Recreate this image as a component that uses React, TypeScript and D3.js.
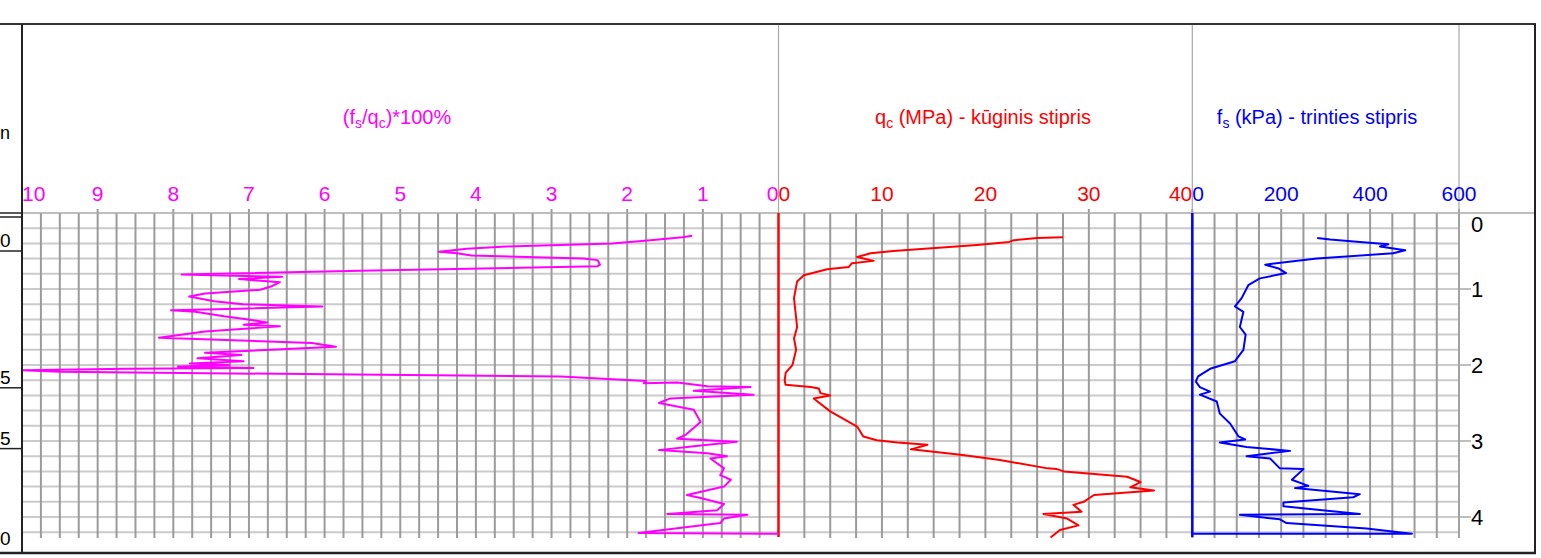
import * as d3 from "d3";
import {useEffect, useRef} from "react";

// friction ratio (fs/qc)*100 %, depth in m
const rfDepth = [0.30, 0.32, 0.36, 0.40, 0.44, 0.47, 0.51, 0.53, 0.56, 0.60, 0.62, 0.68, 0.70, 0.76, 0.81, 0.84, 0.87, 0.91, 0.96, 1.01,
    1.06, 1.10, 1.16, 1.20, 1.23, 1.26, 1.28, 1.30, 1.36, 1.40, 1.44, 1.47, 1.49, 1.52, 1.56, 1.64, 1.71, 1.76, 1.84, 1.87,
    1.91, 1.95, 1.98, 2.00, 2.02, 2.04, 2.05, 2.07, 2.09, 2.15, 2.21, 2.24, 2.23, 2.28, 2.29, 2.34, 2.39, 2.44, 2.50, 2.59,
    2.75, 2.92, 2.97, 3.01, 3.07, 3.12, 3.16, 3.20, 3.23, 3.36, 3.45, 3.51, 3.60, 3.71, 3.75, 3.83, 3.91, 3.96, 3.97, 4.02,
    4.08, 4.21, 4.22];
const rfValue = [1.14, 1.27, 1.69, 2.2, 3.6, 4.12, 4.49, 4.25, 4.06, 2.58, 2.39, 2.36, 2.39, 5.53, 7.89, 6.56, 7.13, 6.59, 6.69, 6.85,
    7.58, 7.79, 7.46, 7.08, 6.03, 7.13, 8.03, 7.71, 7.33, 7.01, 6.76, 7.07, 6.59, 7.01, 7.58, 8.19, 6.17, 5.85, 7.58, 7.10,
    7.68, 7.07, 7.78, 7.26, 7.94, 6.94, 8.61, 10, 9.5, 2.88, 1.75, 1.78, 1.34, 0.94, 0.37, 1.12, 0.33, 1.43, 1.58, 1.12,
    1.03, 1.23, 1.34, 0.55, 1.12, 1.58, 0.94, 0.68, 0.90, 0.72, 0.77, 0.63, 0.72, 1.21, 1.03, 0.72, 0.81, 1.47, 0.41, 0.72,
    0.77, 1.85, 0];

// cone resistance qc, MPa
const qcDepth = [0.32, 0.33, 0.36, 0.38, 0.42, 0.50, 0.53, 0.58, 0.63, 0.66, 0.71, 0.74, 0.82, 0.90, 1.12, 1.25, 1.50, 1.65, 1.80, 2.00,
    2.10, 2.20, 2.26, 2.29, 2.31, 2.37, 2.40, 2.44, 2.61, 2.81, 2.94, 2.99, 3.02, 3.05, 3.11, 3.18, 3.25, 3.36, 3.37, 3.40,
    3.47, 3.54, 3.61, 3.65, 3.71, 3.80, 3.84, 3.93, 3.96, 4.02, 4.11, 4.17, 4.27];
const qcValue = [27.5, 25.0, 22.7, 22.3, 19.2, 11.1, 8.9, 7.6, 9.2, 7.1, 6.8, 4.7, 2.45, 1.8, 1.5, 1.6, 1.8, 1.5, 1.7, 1.35,
    0.7, 0.6, 0.68, 3.1, 3.9, 4.06, 5.0, 3.4, 5.0, 7.6, 8.2, 9.5, 11.5, 14.4, 12.8, 17.6, 21.4, 26.0, 26.9, 27.6,
    33.7, 35.0, 34.0, 36.3, 30.5, 29.5, 28.5, 29.3, 25.6, 27.9, 29.0, 27.2, 26.3];

// sleeve friction fs, kPa
const fsDepth = [0.33, 0.35, 0.38, 0.41, 0.44, 0.49, 0.53, 0.60, 0.68, 0.73, 0.79, 0.86, 0.95, 1.12, 1.23, 1.30, 1.50, 1.60, 1.80, 1.95,
    2.05, 2.15, 2.22, 2.29, 2.35, 2.39, 2.48, 2.64, 2.77, 2.94, 2.98, 3.02, 3.08, 3.13, 3.20, 3.23, 3.36, 3.37, 3.51, 3.59,
    3.62, 3.70, 3.74, 3.81, 3.86, 3.96, 3.97, 4.03, 4.08, 4.15, 4.22, 4.22];
const fsValue = [281, 310, 377, 441, 422, 479, 452, 280, 164, 194, 211, 152, 126, 111, 96, 115, 107, 120, 115, 96,
    40, 13, 8, 17, 40, 17, 55, 62, 85, 104, 119, 62, 122, 220, 122, 175, 197, 250, 224, 261,
    231, 377, 362, 205, 205, 377, 107, 197, 212, 392, 494, 2];

const rfTicks = [10, 9, 8, 7, 6, 5, 4, 3, 2, 1, 0];
const qcTicks = [0, 10, 20, 30, 40];
const fsTicks = [0, 200, 400, 600];
const depthTicks = [0, 1, 2, 3, 4];

// cropped soil-column labels on the far left
const layerLabels = ["0", "5", "5", "0"];
const layerDepths = [0.5, 2.3, 3.1, 4.42];

const FONT = "'Liberation Sans', Arial, sans-serif";

const App = () => {
    const ref = useRef<SVGSVGElement>(null);

    useEffect(() => {
        const svg = d3.select(ref.current);
        svg.selectAll("*").remove();

        const top = 24, bottom = 553, left = 22, right = 1535;

        const y = d3.scaleLinear().domain([0, 4.2]).range([213, 532.2]);
        const xRf = d3.scaleLinear().domain([10, 0]).range([left, 778.5]);
        const xQc = d3.scaleLinear().domain([0, 40]).range([778.5, 1192.3]);
        const xFs = d3.scaleLinear().domain([0, 600]).range([1192.3, 1459]);
        const gridEnd = 538;

        // horizontal grid
        const hLines = d3.range(1, 22).map(i => i * 0.2);
        svg.append("g").selectAll("line").data(hLines).join("line")
            .attr("x1", left).attr("x2", 1459)
            .attr("y1", d => y(d)).attr("y2", d => y(d))
            .attr("stroke", "#cbcbcb").attr("stroke-width", 2);

        // vertical grid per panel
        const vgrid = (scale, step, majors, from, to) => {
            const vals = d3.range(from, to + step / 2, step);
            svg.append("g").selectAll("line").data(vals).join("line")
                .attr("x1", d => scale(d)).attr("x2", d => scale(d))
                .attr("y1", d => majors.some(m => Math.abs(m - d) < 1e-6) ? y(0) - 4 : y(0))
                .attr("y2", gridEnd)
                .attr("stroke", "#9b9b9b").attr("stroke-width", 2);
        };
        vgrid(xRf, 0.25, rfTicks, 0.25, 9.75);
        vgrid(xQc, 2.5, qcTicks, 2.5, 40);
        vgrid(xFs, 50, fsTicks, 50, 600);

        // top line of grid
        svg.append("line").attr("x1", left).attr("x2", right).attr("y1", y(0)).attr("y2", y(0))
            .attr("stroke", "#a8a8a8").attr("stroke-width", 1.5);

        // depth ticks + labels
        svg.append("g").selectAll("line").data(depthTicks.slice(1)).join("line")
            .attr("x1", 1459).attr("x2", 1471)
            .attr("y1", d => y(d)).attr("y2", d => y(d))
            .attr("stroke", "#a8a8a8").attr("stroke-width", 1.5);
        svg.append("g").selectAll("text").data(depthTicks).join("text")
            .attr("x", 1471)
            .attr("y", d => d === 0 ? y(0) + 19 : y(d) + 8)
            .attr("font-family", FONT).attr("font-size", 22).attr("fill", "#000")
            .text(d => d);

        // header separators
        [778.5, 1192.3, 1459].forEach(xx => {
            svg.append("line").attr("x1", xx).attr("x2", xx).attr("y1", top).attr("y2", xx === 1459 ? gridEnd : y(0))
                .attr("stroke", "#a8a8a8").attr("stroke-width", 1.2);
        });

        // zero axes
        svg.append("line").attr("x1", xQc(0)).attr("x2", xQc(0)).attr("y1", y(0)).attr("y2", 537)
            .attr("stroke", "#ff0000").attr("stroke-width", 2.5);
        svg.append("line").attr("x1", xFs(0)).attr("x2", xFs(0)).attr("y1", y(0)).attr("y2", 537)
            .attr("stroke", "#0000ff").attr("stroke-width", 2.5);

        // tick labels
        const tickLabels = (ticks, scale, color, anchorFn) => {
            svg.append("g").selectAll("text").data(ticks).join("text")
                .attr("x", d => scale(d))
                .attr("y", 201)
                .attr("text-anchor", (d, i) => anchorFn(i, ticks.length))
                .attr("font-family", FONT).attr("font-size", 21).attr("fill", color)
                .text(d => d);
        };
        tickLabels(rfTicks, xRf, "#ff00ff", (i, n) => i === 0 ? "start" : i === n - 1 ? "end" : "middle");
        tickLabels(qcTicks, xQc, "#ff0000", (i, n) => i === 0 ? "start" : i === n - 1 ? "end" : "middle");
        tickLabels(fsTicks, xFs, "#0000ff", (i) => i === 0 ? "start" : "middle");

        // titles with subscripts
        const title = (cx, color, parts) => {
            const t = svg.append("text").attr("x", cx).attr("y", 124).attr("text-anchor", "middle")
                .attr("font-family", FONT).attr("font-size", 20).attr("fill", color);
            let shifted = false;
            parts.forEach(([s, sub]) => {
                const dy = sub ? 4 : (shifted ? -4 : 0);
                shifted = sub;
                t.append("tspan").attr("font-size", sub ? 14 : 20)
                    .attr("dy", dy)
                    .text(s);
            });
        };
        title(397, "#ff00ff", [["(f", false], ["s", true], ["/q", false], ["c", true], [")*100%", false]]);
        title(983, "#ff0000", [["q", false], ["c", true], [" (MPa) - kūginis stipris", false]]);
        title(1317, "#0000ff", [["f", false], ["s", true], [" (kPa) - trinties stipris", false]]);

        // traces
        const trace = (depths, values, scale, color) => {
            const pts = depths.map((d, i) => [scale(values[i]), y(d)]);
            svg.append("path")
                .attr("d", d3.line()(pts))
                .attr("fill", "none").attr("stroke", color).attr("stroke-width", 2)
                .attr("stroke-linejoin", "round");
        };
        trace(rfDepth, rfValue, xRf, "#ff00ff");
        trace(qcDepth, qcValue, xQc, "#ff0000");
        trace(fsDepth, fsValue, xFs, "#0000ff");

        // left soil column remnants
        svg.append("line").attr("x1", 0).attr("x2", left).attr("y1", y(0)).attr("y2", y(0))
            .attr("stroke", "#222").attr("stroke-width", 1.5);
        svg.append("line").attr("x1", 0).attr("x2", left).attr("y1", y(0) + 4).attr("y2", y(0) + 4)
            .attr("stroke", "#222").attr("stroke-width", 1.5);
        layerDepths.forEach((d, i) => {
            if (i < layerDepths.length - 1) {
                svg.append("line").attr("x1", 0).attr("x2", left).attr("y1", y(d)).attr("y2", y(d))
                    .attr("stroke", "#222").attr("stroke-width", 1.5);
            }
            svg.append("text").attr("x", 0).attr("y", y(d) - 4)
                .attr("font-family", FONT).attr("font-size", 19).attr("fill", "#000")
                .text(layerLabels[i]);
        });
        svg.append("text").attr("x", 0).attr("y", 139)
            .attr("font-family", FONT).attr("font-size", 18).attr("fill", "#000").text("n");

        // frame
        svg.append("line").attr("x1", 0).attr("x2", right + 1).attr("y1", top).attr("y2", top)
            .attr("stroke", "#333").attr("stroke-width", 2);
        svg.append("line").attr("x1", 0).attr("x2", right + 1).attr("y1", bottom).attr("y2", bottom)
            .attr("stroke", "#222").attr("stroke-width", 2.5);
        svg.append("line").attr("x1", left).attr("x2", left).attr("y1", top).attr("y2", bottom)
            .attr("stroke", "#222").attr("stroke-width", 2);
        svg.append("line").attr("x1", right).attr("x2", right).attr("y1", top).attr("y2", bottom)
            .attr("stroke", "#222").attr("stroke-width", 2);
    }, []);

    return (
        <svg ref={ref} width={1541} height={558}
             style={{position: "absolute", left: 0, top: 0, background: "#fff"}}/>
    );
};

export default App;
